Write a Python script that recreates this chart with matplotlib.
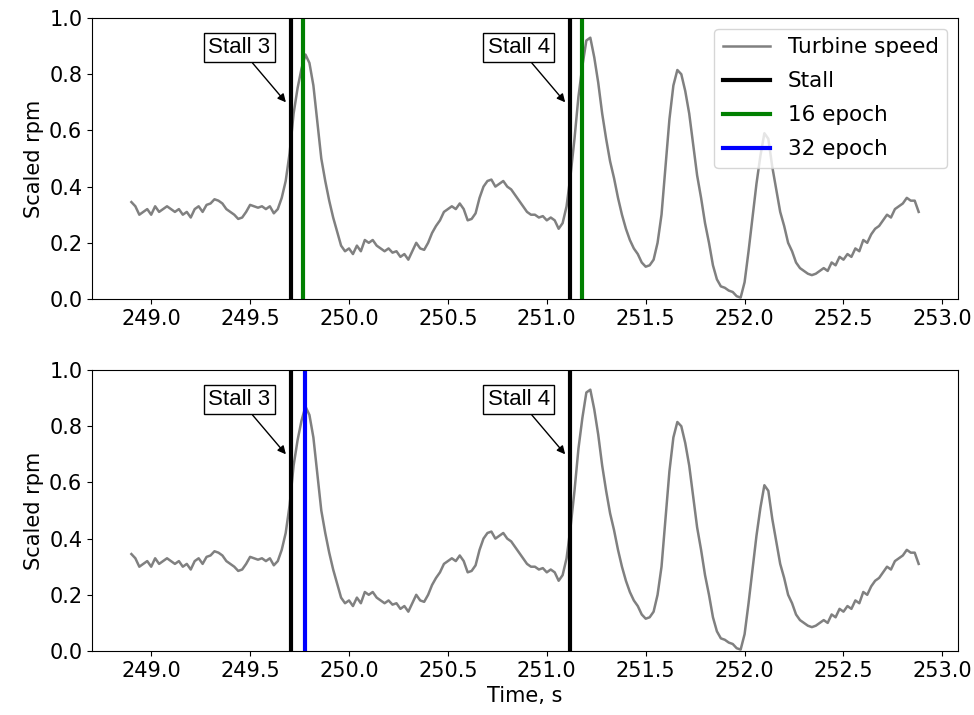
import numpy as np
import matplotlib
matplotlib.use("Agg")
import matplotlib.pyplot as plt

# turbine speed, scaled rpm, sampled every 0.02 s starting at 248.90 s
t_start = 248.90
t_step = 0.02
speed = [
    0.345, 0.33, 0.30, 0.31, 0.32, 0.30, 0.33, 0.31, 0.32, 0.33,
    0.32, 0.31, 0.32, 0.30, 0.31, 0.29, 0.32, 0.33, 0.31, 0.335,
    0.34, 0.355, 0.35, 0.34, 0.32, 0.31, 0.30, 0.285, 0.29, 0.31,
    0.335, 0.33, 0.325, 0.33, 0.32, 0.33, 0.305, 0.32, 0.36, 0.42,
    0.52, 0.66, 0.75, 0.82, 0.87, 0.84, 0.76, 0.63, 0.50, 0.42,
    0.35, 0.29, 0.24, 0.19, 0.17, 0.18, 0.16, 0.19, 0.17, 0.21,
    0.20, 0.21, 0.19, 0.18, 0.17, 0.18, 0.165, 0.17, 0.15, 0.16,
    0.14, 0.17, 0.20, 0.18, 0.175, 0.20, 0.235, 0.26, 0.28, 0.31,
    0.32, 0.33, 0.32, 0.34, 0.32, 0.28, 0.285, 0.305, 0.36, 0.40,
    0.42, 0.425, 0.40, 0.41, 0.42, 0.40, 0.39, 0.37, 0.35, 0.33,
    0.31, 0.30, 0.30, 0.29, 0.295, 0.28, 0.29, 0.28, 0.25, 0.27,
    0.33, 0.44, 0.57, 0.72, 0.83, 0.92, 0.93, 0.86, 0.77, 0.66,
    0.57, 0.49, 0.43, 0.36, 0.30, 0.25, 0.21, 0.18, 0.16, 0.13,
    0.115, 0.12, 0.14, 0.20, 0.30, 0.47, 0.64, 0.76, 0.815, 0.80,
    0.74, 0.66, 0.55, 0.44, 0.36, 0.27, 0.20, 0.12, 0.07, 0.045,
    0.04, 0.03, 0.025, 0.01, 0.005, 0.06, 0.17, 0.29, 0.41, 0.51,
    0.59, 0.57, 0.47, 0.39, 0.31, 0.26, 0.20, 0.17, 0.13, 0.11,
    0.10, 0.09, 0.085, 0.09, 0.10, 0.11, 0.10, 0.13, 0.12, 0.15,
    0.14, 0.16, 0.15, 0.18, 0.17, 0.21, 0.20, 0.23, 0.25, 0.26,
    0.28, 0.30, 0.29, 0.32, 0.33, 0.34, 0.36, 0.35, 0.35, 0.31,
]
time = t_start + t_step * np.arange(len(speed))

stalls = [249.706, 251.118]
stall_names = ["Stall 3", "Stall 4"]
detect_16 = [249.766, 251.176]
detect_32 = [249.778]

plt.rcParams['font.size'] = 15

fig = plt.figure(figsize=(9.74, 7.15), dpi=100)
ax1 = fig.add_axes([0.0945, 0.5818, 0.8891, 0.393])
ax2 = fig.add_axes([0.0945, 0.0895, 0.8891, 0.393])


def draw_panel(ax, detections, color, label):
    ax.plot(time, speed, color='gray', lw=1.8, label='Turbine speed')
    for i, s in enumerate(stalls):
        ax.axvline(s, color='black', lw=3, label='Stall' if i == 0 else None)
    for i, d in enumerate(detections):
        ax.axvline(d, color=color, lw=3, label=label if i == 0 else None)
    for s, name in zip(stalls, stall_names):
        ax.annotate(name, xy=(s - 0.025, 0.70), xytext=(s - 0.26, 0.895),
                    ha='center', va='center', fontsize=16,
                    family='Liberation Sans',
                    bbox=dict(boxstyle='square,pad=0.2', fc='white', ec='black', lw=1),
                    arrowprops=dict(arrowstyle='-|>', color='black', lw=1,
                                    mutation_scale=12, shrinkA=0, shrinkB=0))
    ax.set_ylim(0, 1.0)
    ax.set_ylabel('Scaled rpm')
    ax.set_xticks([249.0, 249.5, 250.0, 250.5, 251.0, 251.5, 252.0, 252.5, 253.0])
    ax.set_xticklabels(['249.0', '249.5', '250.0', '250.5', '251.0',
                        '251.5', '252.0', '252.5', '253.0'])


draw_panel(ax1, detect_16, 'green', '16 epoch')
draw_panel(ax2, detect_32, 'blue', '32 epoch')
ax2.set_xlabel('Time, s')

# legend in the top panel lists all four series
handles, labels = ax1.get_legend_handles_labels()
blue_h = plt.Line2D([], [], color='blue', lw=3)
ax1.legend(handles + [blue_h], labels + ['32 epoch'], loc='upper right',
           fontsize=15.5, handlelength=2.2, borderaxespad=0.5,
           labelspacing=0.65)

fig.savefig('out.png', dpi=100)
